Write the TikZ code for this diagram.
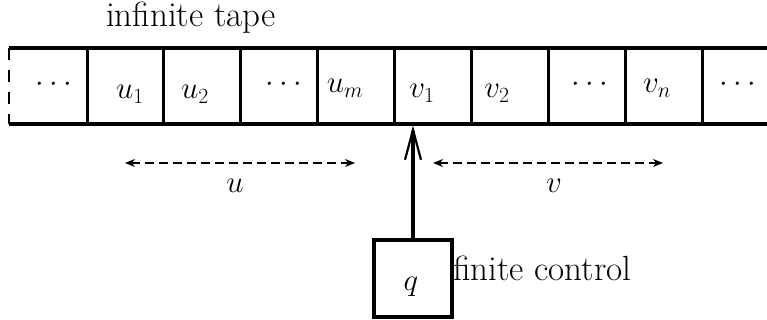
\RequirePackage{fix-cm}
\documentclass[tikz,border=0pt]{standalone}
\usetikzlibrary{arrows.meta}
\begin{document}
\begin{tikzpicture}[x=1pt,y=-1pt,
  every node/.style={font=\fontsize{31}{37}\selectfont, inner sep=0pt},
  wordlab/.style={font=\fontsize{35}{42}\selectfont, anchor=base west},
  tapeline/.style={line width=3.4pt},
  cellline/.style={line width=3pt},
  ctrlbox/.style={draw, line width=3.2pt, minimum width=78pt, minimum height=77pt},
  rangearrow/.style={line width=1.5pt, dash pattern=on 9pt off 5pt,
    {Stealth[open,length=10pt,width=8pt]}-{Stealth[open,length=10pt,width=8pt]}},
  headarrow/.style={line width=3.4pt, -{Straight Barb[length=30pt,width=16pt,line width=2.2pt]}},
  cell/.style={anchor=base}
]
\useasboundingbox (0,0) rectangle (767,320);
% tape
\draw[tapeline] (9,48) -- (767,48);
\draw[tapeline] (9,124) -- (767,124);
\draw[line width=1.8pt, dash pattern=on 12pt off 10pt] (9,48) -- (9,124);
\foreach \x in {87,163,240,317,394,471,548,625,702}
  \draw[cellline] (\x,48) -- (\x,124);
% tape label
\node[wordlab] (tapelab) at (106,27) {infinite tape};
% cell contents
\node[cell] (c0) at (54,92) {$\cdots$};
\node[cell] (c1) at (130,99) {$u_1$};
\node[cell] (c2) at (195,99) {$u_2$};
\node[cell] (c3) at (284,92) {$\cdots$};
\node[cell] (c4) at (345,93) {$u_m$};
\node[cell] (c5) at (422,98) {$v_1$};
\node[cell] (c6) at (497,98) {$v_2$};
\node[cell] (c7) at (590,92) {$\cdots$};
\node[cell] (c8) at (657,93) {$v_n$};
\node[cell] (c9) at (738,92) {$\cdots$};
% ranges
\coordinate (ua) at (125,163);
\coordinate (ub) at (355,163);
\coordinate (va) at (433,163);
\coordinate (vb) at (663,163);
\draw[rangearrow] (ua) -- (ub);
\draw[rangearrow] (va) -- (vb);
\node[anchor=base] (ulab) at (235,193) {$u$};
\node[anchor=base] (vlab) at (554,193) {$v$};
% finite control
\node[ctrlbox] (ctrl) at (413,278.5) {};
\node[anchor=base] (qlab) at (411,290) {$q$};
\node[wordlab] (ctrllab) at (453,280) {finite control};
\coordinate (head) at (413,125.5);
\draw[headarrow] (ctrl.north) -- (head);
\end{tikzpicture}
\end{document}
